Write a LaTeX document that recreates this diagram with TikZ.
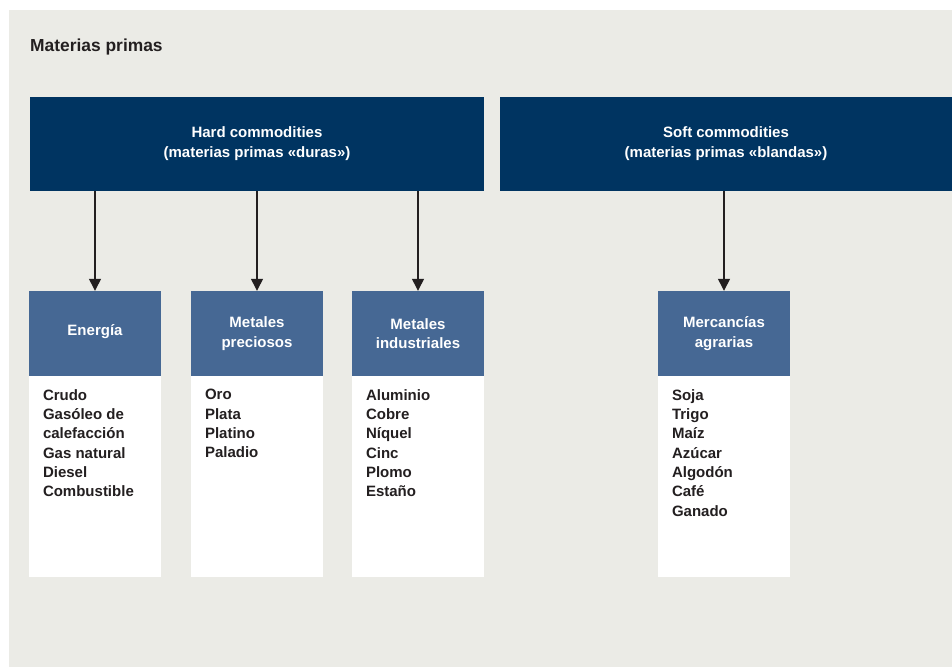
\documentclass[tikz,border=0pt]{standalone}
\usepackage{fontspec}
\setmainfont{Liberation Sans}
\usepackage{tikz}
\usetikzlibrary{positioning}
\usetikzlibrary{arrows.meta}

\definecolor{bggray}{HTML}{EBEBE6}
\definecolor{navy}{HTML}{003461}
\definecolor{catblue}{HTML}{466894}
\definecolor{textdark}{HTML}{231F20}

\tikzset{
    topbox/.style = {fill=navy, text=white, align=center, inner sep=0pt,
        minimum height=94pt, font=\bfseries\fontsize{15}{20}\selectfont},
    catbox/.style = {fill=catblue, text=white, align=center, inner sep=0pt,
        minimum width=132pt, minimum height=85pt, font=\bfseries\fontsize{15}{19.5}\selectfont},
    catbody/.style = {fill=white, inner sep=0pt, minimum width=132pt, minimum height=201pt},
    items/.style = {text=textdark, align=left, inner sep=0pt,
        font=\bfseries\fontsize{15}{19.3}\selectfont},
    arrow/.style = {-{Triangle[width=12pt, length=12pt]}, line width=1.3pt, textdark},
}

\begin{document}
\begin{tikzpicture}[x=1pt, y=-1pt]
    \useasboundingbox (0,0) rectangle (952,667);
    \fill[white] (0,0) rectangle (952,667);
    \fill[bggray] (9,10) rectangle (952,667);

    \node[anchor=west, inner sep=0pt, text=textdark, font=\bfseries\fontsize{17.4}{20}\selectfont] (title) at (30,47) {Materias primas};

    \node[topbox, minimum width=454pt] (hard) at (257,144) {Hard commodities\\(materias primas «duras»)};
    \node[topbox, minimum width=452pt] (soft) at (726,144) {Soft commodities\\(materias primas «blandas»)};

    % categories
    \node[catbox, text depth=8pt] (energia) at (95,333.5) {Energía};
    \node[catbox] (preciosos) at (257,333.5) {Metales\\preciosos};
    \node[catbox] (industriales) at (418,333.5) {Metales\\industriales};
    \node[catbox] (agrarias) at (724,333.5) {Mercancías\\agrarias};

    \node[catbody, below=0pt of energia] (energiabody) {};
    \node[catbody, below=0pt of preciosos] (preciososbody) {};
    \node[catbody, below=0pt of industriales] (industrialesbody) {};
    \node[catbody, below=0pt of agrarias] (agrariasbody) {};

    \node[items, anchor=north west] (energiaitems) at ([xshift=14pt, yshift=-13pt]energiabody.north west)
        {Crudo\\Gasóleo de\\calefacción\\Gas natural\\Diesel\\Combustible};
    \node[items, anchor=north west] (preciositems) at ([xshift=14pt, yshift=-13pt]preciososbody.north west)
        {Oro\\Plata\\Platino\\Paladio};
    \node[items, anchor=north west] (industrialitems) at ([xshift=14pt, yshift=-13pt]industrialesbody.north west)
        {Aluminio\\Cobre\\Níquel\\Cinc\\Plomo\\Estaño};
    \node[items, anchor=north west] (agrariaitems) at ([xshift=14pt, yshift=-13pt]agrariasbody.north west)
        {Soja\\Trigo\\Maíz\\Azúcar\\Algodón\\Café\\Ganado};

    \draw[arrow] (hard.south -| energia.north) -- (energia.north);
    \draw[arrow] (hard.south -| preciosos.north) -- (preciosos.north);
    \draw[arrow] (hard.south -| industriales.north) -- (industriales.north);
    \draw[arrow] (soft.south -| agrarias.north) -- (agrarias.north);
\end{tikzpicture}
\end{document}
